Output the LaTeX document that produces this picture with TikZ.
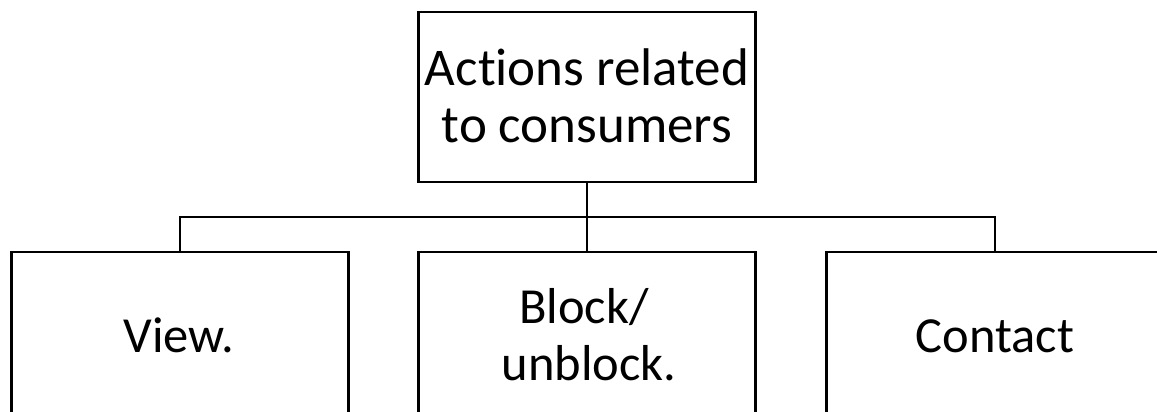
\documentclass[tikz,border=0pt]{standalone}
\usepackage{fontspec}
\setmainfont{Carlito}[Ligatures={NoCommon}]
\begin{document}
\begin{tikzpicture}[x=1pt,y=-1pt,
  box/.style={draw, line width=2.6pt, minimum width=337pt, minimum height=170pt, inner sep=0pt},
  toptxt/.style={anchor=base, inner sep=0pt, font=\fontsize{53}{53}\selectfont},
  txt/.style={anchor=base, inner sep=0pt, font=\fontsize{50.5}{50}\selectfont},
  conn/.style={line width=2.2pt}]
\useasboundingbox (0,0) rectangle (1157,412);
\clip (0,0) rectangle (1157,412);
\node[box] (top) at (587,97) {};
\node[box] (view) at (180,337) {};
\node[box] (block) at (587,337) {};
\node[box] (contact) at (995,337) {};
\node[toptxt] (topA) at (587,85) {Act\kern0pt ions related};
\node[toptxt] (topB) at (587,142) {to consumers};
\node[txt] (viewT) at (179,352) {View.};
\node[txt] (blockA) at (584,323) {Block/};
\node[txt] (blockB) at (589,380) {unblock.};
\node[txt] (contactT) at (995,352) {Contact};
\coordinate (bus) at (587,217);
\draw[conn] (top.south) -- (bus);
\draw[conn] (view.north) |- (bus) -| (contact.north);
\draw[conn] (bus) -- (block.north);
\end{tikzpicture}
\end{document}
